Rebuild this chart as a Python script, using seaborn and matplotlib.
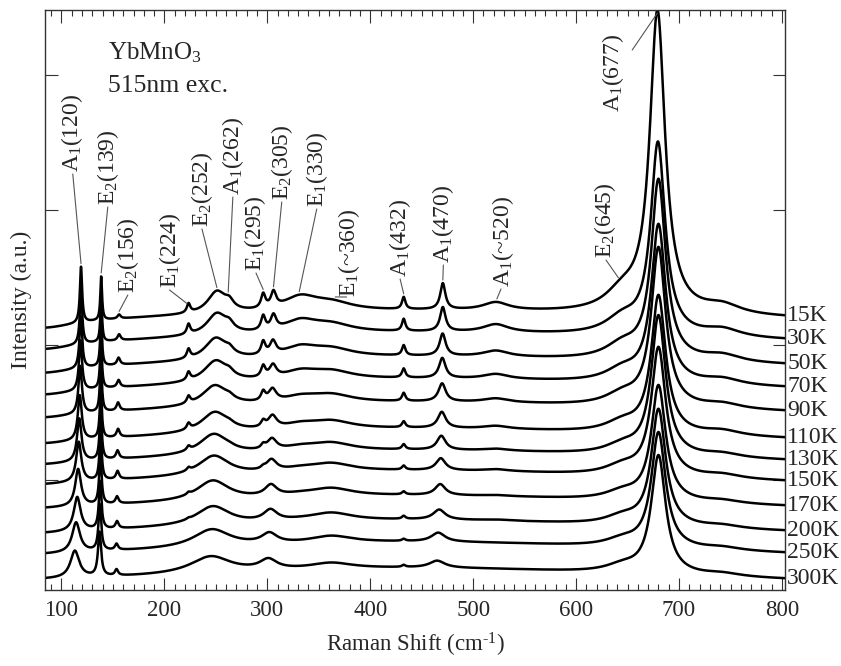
import numpy as np
import pandas as pd
import matplotlib
matplotlib.use('Agg')
import matplotlib.pyplot as plt
import seaborn as sns
from matplotlib.ticker import MultipleLocator, NullLocator

# temperatures, top trace first, and the level of each trace at 800 cm-1
temps = ['15K', '30K', '50K', '70K', '90K', '110K', '130K', '150K', '170K',
         '200K', '250K', '300K']
end_level = [165, 142, 117, 94, 70, 43, 21, 0, -25, -50, -72, -98]

# phonon modes: position (cm-1), half width, height
pos_120 = [119.0, 119.0, 118.8, 118.5, 118.2, 117.8, 117.3, 116.8, 116.2, 115.3, 114.2, 113.0]
hw_120 = [1.3, 1.4, 1.6, 1.8, 2.0, 2.3, 2.6, 3.0, 3.4, 4.0, 4.6, 5.2]
amp_120 = [56, 54, 52, 50, 48, 45, 43, 40, 37, 34, 30, 27]

pos_139 = [138.6, 138.6, 138.5, 138.4, 138.3, 138.2, 138.1, 138.0, 137.8, 137.6, 137.3, 137.0]
hw_139 = [1.0, 1.0, 1.1, 1.1, 1.2, 1.2, 1.3, 1.3, 1.4, 1.5, 1.6, 1.8]
amp_139 = [44, 46, 48, 50, 50, 50, 50, 50, 50, 48, 46, 44]

pos_156 = [156, 156, 155.5, 155.5, 155, 155, 154.5, 154.5, 154, 154, 153.5, 153.5]
amp_156 = [4, 6, 7, 7, 8, 8, 8, 8, 7, 7, 6, 6]

amp_224 = [9, 10, 9, 8, 7, 6, 4, 3, 2, 1, 0, 0]

pos_250 = [251, 251, 250, 250, 249, 249, 248, 248, 247, 247, 246, 245]
hw_250 = [11, 12, 13, 14, 15, 16, 17, 18, 19, 20, 22, 24]
amp_250 = [22, 22, 22, 22, 21, 21, 21, 20, 20, 19, 18, 17]

amp_262 = [7, 6, 5, 4, 3, 2, 1, 0, 0, 0, 0, 0]
amp_295 = [14, 14, 13, 11, 9, 6, 4, 2, 0, 0, 0, 0]

pos_305 = [306, 306, 305.5, 305.5, 305, 305, 304.5, 304, 303.5, 303, 302, 301]
hw_305 = [3, 3.2, 3.5, 4, 4.5, 5, 5.5, 6, 7, 8, 9, 10]
amp_305 = [15, 14, 13, 12, 12, 12, 11, 11, 11, 11, 10, 10]

amp_330 = [14, 12, 10, 8, 6, 5, 4, 3, 2, 1, 0, 0]
amp_360 = [8, 8, 8, 8, 8, 8, 8, 8, 8, 8, 7, 6]
amp_432 = [12, 12, 10, 9, 8, 6, 5, 4, 3, 3, 2, 2]

pos_470 = [470.5, 470.5, 470.3, 470, 469.8, 469.5, 469, 468.5, 468, 467, 466, 465]
hw_470 = [3, 3.2, 3.5, 3.8, 4.2, 4.6, 5, 5.5, 6, 7, 8, 9]
amp_470 = [26, 24, 22, 20, 18, 16, 14, 12, 11, 10, 9, 7]

amp_520 = [8, 8, 6, 5, 4, 3, 2, 2, 1, 1, 0, 0]
amp_645 = [18, 16, 14, 12, 11, 10, 9, 9, 8, 8, 7, 7]

pos_677 = [679, 679.5, 680, 680, 680, 680, 680, 680, 680, 680, 680, 680]
hw_677 = [9, 8.5, 8.5, 8.5, 8.5, 8.5, 8.5, 8.5, 8.5, 8.5, 8.5, 8.5]
amp_677 = [300, 191, 179, 157, 158, 137, 139, 128, 115, 116, 115, 118]

amp_740 = [9, 8, 7, 6, 5, 5, 4, 4, 3, 3, 3, 3]
amp_bg = [13, 14, 15, 16, 17, 18, 18, 19, 19, 20, 20, 20]
amp_edge = [-10, -9, -8, -7, -6, -5, -4, -3, -2, -2, -1, 0]

modes = [
    (pos_120, hw_120, amp_120), (pos_139, hw_139, amp_139),
    (pos_156, 1.8, amp_156), (223.5, 2.0, amp_224),
    (pos_250, hw_250, amp_250), (263, 5, amp_262), (296, 2.5, amp_295),
    (pos_305, hw_305, amp_305), (332, 20, amp_330), (362, 25, amp_360),
    (432.5, 2.0, amp_432), (pos_470, hw_470, amp_470), (522, 15, amp_520),
    (645, 20, amp_645), (pos_677, hw_677, amp_677), (742, 22, amp_740),
    (445, 330, amp_bg), (80, 45, amp_edge),
]

# peak labels: text, text position (bottom of rotated text), leader start, peak
ann_text = ['A$_1$(120)', 'E$_2$(139)', 'E$_2$(156)', 'E$_1$(224)', 'E$_2$(252)',
            'A$_1$(262)', 'E$_1$(295)', 'E$_2$(305)', 'E$_1$(330)', 'E$_1$(~360)',
            'A$_1$(432)', 'A$_1$(470)', 'A$_1$(~520)', 'E$_2$(645)', 'A$_1$(677)']
ann_x = [110, 145, 164.5, 205, 236.5, 266.5, 288, 314, 348, 379, 429, 471, 529, 628, 636]
ann_y = [308, 275, 187, 192, 253, 285, 209, 280, 273, 183, 203, 217, 193, 222, 368]
line_x0 = [111, 145, 164.5, 205, 236.5, 266.5, 289, 314, 348, 377, 429, 471, 527, 629, 654.5]
line_y0 = [306, 273, 185, 190, 251, 283, 207, 278, 271, 183, 201, 215, 191, 220, 430]
peak_x = [119, 138.6, 156, 222, 251, 262, 296, 306, 331, 366, 432.5, 470.5, 523, 641, 679]


def pick(v, i):
    return v[i] if isinstance(v, list) else v


def spectrum(x, i):
    y = np.zeros_like(np.asarray(x, dtype=float))
    for pos, hw, amp in modes:
        y = y + pick(amp, i) / (1 + ((x - pick(pos, i)) / pick(hw, i)) ** 2)
    return y - float(np.sum([pick(a, i) / (1 + ((800 - pick(p, i)) / pick(h, i)) ** 2)
                             for p, h, a in modes])) + end_level[i]


shift = np.arange(84, 803.25, 0.25)
df = pd.concat([pd.DataFrame({'shift': shift, 'counts': spectrum(shift, i), 'T': t})
                for i, t in enumerate(temps)])

sns.set_theme(style='ticks')
plt.rcParams['font.family'] = ['Liberation Serif', 'DejaVu Serif']
plt.rcParams['mathtext.fontset'] = 'custom'
plt.rcParams['mathtext.rm'] = 'Liberation Serif'
plt.rcParams['mathtext.default'] = 'regular'

fig = plt.figure(figsize=(8.41, 6.66), dpi=100)
ax = fig.add_axes([0.0535, 0.1141, 0.88, 0.8709])
sns.lineplot(data=df, x='shift', y='counts', hue='T', hue_order=temps,
             palette=['black'] * len(temps), legend=False, estimator=None,
             sort=False, linewidth=1.8, ax=ax)

ax.set_xlim(84, 803)
ax.set_ylim(-110, 470)
ax.xaxis.set_major_locator(MultipleLocator(100))
ax.xaxis.set_minor_locator(MultipleLocator(10))
ax.yaxis.set_major_locator(MultipleLocator(135))
ax.yaxis.set_minor_locator(NullLocator())
ax.tick_params(which='both', direction='in', top=True, right=True,
               labelleft=False, width=0.8, color='#333333')
ax.tick_params(which='major', length=9, labelsize=16.5, pad=7)
ax.tick_params(which='minor', length=4)
for s in ax.spines.values():
    s.set_linewidth(1.0)
    s.set_color('#333333')

ax.set_xlabel('Raman Shift (cm$^{\\text{-}1}$)', fontsize=16.5)
ax.set_ylabel('Intensity (a.u.)', fontsize=17)
ax.xaxis.set_label_coords(0.5, -0.07)
ax.yaxis.set_label_coords(-0.017, 0.5)

for i, t in enumerate(temps):
    ax.text(805, end_level[i], t, fontsize=17, ha='left', va='center',
            clip_on=False)

top = ax.get_ylim()[1]
for k, txt in enumerate(ann_text):
    ax.text(ann_x[k], ann_y[k], txt, rotation=90, ha='center', va='bottom',
            fontsize=17)
    yend = min(float(spectrum(np.array([peak_x[k]]), 0)[0]) + 3, top - 3)
    ax.plot([line_x0[k], peak_x[k]], [line_y0[k], yend], color='#555555',
            linewidth=0.8)

ax.text(0.085, 0.914, 'YbMnO$_3$', transform=ax.transAxes, fontsize=18,
        va='baseline')
ax.text(0.085, 0.859, '515nm exc.', transform=ax.transAxes, fontsize=18.5,
        va='baseline')

fig.savefig('out.png', dpi=100)
